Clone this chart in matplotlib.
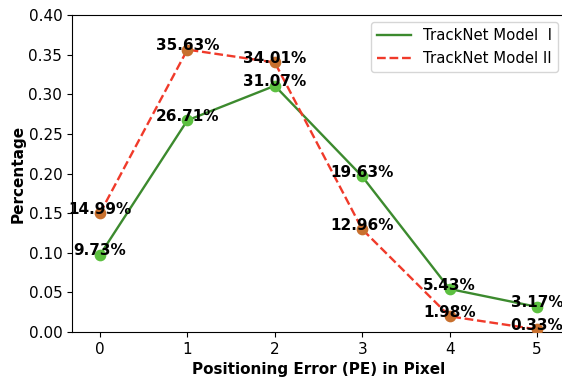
import numpy as np
import matplotlib.pyplot as plt

pe = [0, 1, 2, 3, 4, 5]
model1 = [9.73, 26.71, 31.07, 19.63, 5.43, 3.17]
model2 = [14.99, 35.63, 34.01, 12.96, 1.98, 0.33]

fig = plt.figure(figsize=(5.62, 3.77), dpi=100)
ax = fig.add_axes([72 / 562, 45 / 377, (565 - 72) / 562, 317 / 377])

y1 = np.array(model1) / 100
y2 = np.array(model2) / 100

ax.plot(pe, y1, '-', color='#3c8a2e', lw=1.7, label='TrackNet Model  I', zorder=2)
ax.plot(pe, y2, '--', color='#f03a2a', lw=1.7, label='TrackNet Model II', zorder=2)
ax.scatter(pe, y1, s=55, color='#5cc040', zorder=3)
ax.scatter(pe, y2, s=55, color='#c8702e', zorder=3)

# value labels sit just above each point
for x, v in zip(pe, model1):
    ax.text(x, v / 100 + 0.005, '%.2f%%' % v, ha='center', va='center',
            fontsize=11, fontweight='bold', zorder=4)
for x, v in zip(pe, model2):
    ax.text(x, v / 100 + 0.005, '%.2f%%' % v, ha='center', va='center',
            fontsize=11, fontweight='bold', zorder=4)

ax.set_xlim(-0.32, 5.32)
ax.set_ylim(0, 0.40)
ax.set_xticks(pe)
ax.set_yticks(np.arange(0, 0.41, 0.05))
ax.yaxis.set_major_formatter(plt.FormatStrFormatter('%.2f'))
ax.tick_params(labelsize=11)
ax.set_xlabel('Positioning Error (PE) in Pixel', fontsize=11, fontweight='bold')
ax.set_ylabel('Percentage', fontsize=11, fontweight='bold', labelpad=2)
ax.legend(loc='upper right', fontsize=10.7, handlelength=2.3,
          bbox_to_anchor=(1.0, 1.0))

fig.savefig('out.png', dpi=100)
